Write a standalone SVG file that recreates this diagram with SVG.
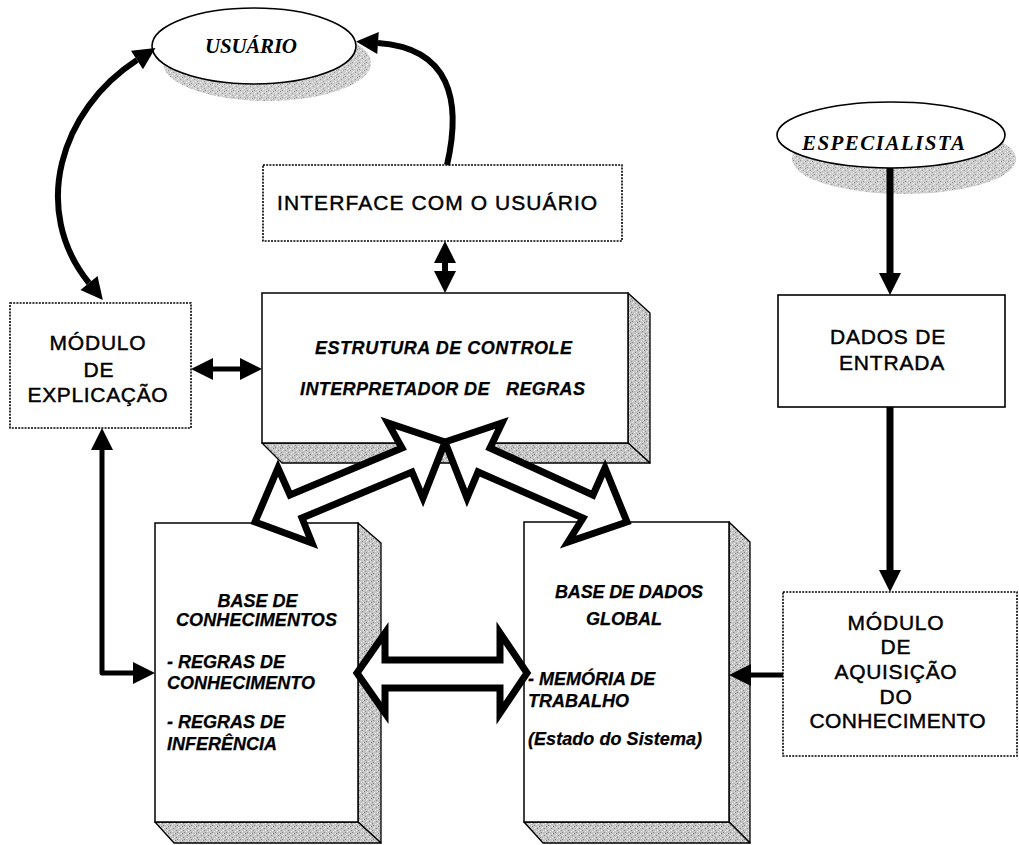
<svg xmlns="http://www.w3.org/2000/svg" width="1019" height="845" viewBox="0 0 1019 845">
  <style>
    .sans { font-family: "Liberation Sans", Arial, sans-serif; fill: #000; }
    .plain { font-size: 21px; letter-spacing: 0.8px; stroke: #000; stroke-width: 0.45; }
    .bi { font-size: 18px; font-weight: bold; font-style: italic; stroke: #000; stroke-width: 0.25; }
    .serif { font-family: "Liberation Serif", "Times New Roman", serif; font-size: 21px; font-weight: bold; font-style: italic; fill: #000; }
    .dotted { fill: #fff; stroke: #000; stroke-width: 1.6; stroke-dasharray: 2 1.2; }
    .solid { fill: #fff; stroke: #000; stroke-width: 1.6; }
    .face { fill: #fff; stroke: #000; stroke-width: 1.5; }
    .bevel { fill: url(#grain); stroke: #000; stroke-width: 1.3; stroke-linejoin: round; }
    .shadow { fill: url(#grain); stroke: none; opacity: 0.85; }
    .oval { fill: #fff; stroke: #000; stroke-width: 1.6; }
    .line { fill: none; stroke: #000; stroke-linejoin: round; }
    .hollow { fill: #fff; stroke: #000; stroke-width: 7; stroke-linejoin: miter; stroke-miterlimit: 10; }
  </style>
  <defs>
    <!-- stippled grey used for the bevel sides and oval shadows -->
    <pattern id="grain" width="7" height="7" patternUnits="userSpaceOnUse">
      <rect width="7" height="7" fill="#c4c4c4"/>
      <rect x="0" y="0" width="1" height="1" fill="#7d7d7d"/>
      <rect x="3" y="1" width="1" height="1" fill="#f2f2f2"/>
      <rect x="5" y="2" width="1" height="1" fill="#888"/>
      <rect x="1" y="4" width="1" height="1" fill="#909090"/>
      <rect x="4" y="5" width="1" height="1" fill="#f0f0f0"/>
      <rect x="2" y="6" width="1" height="1" fill="#858585"/>
      <rect x="6" y="4" width="1" height="1" fill="#fff"/>
      <rect x="2" y="2" width="1" height="1" fill="#e6e6e6"/>
      <rect x="6" y="0" width="1" height="1" fill="#e9e9e9"/>
    </pattern>
    <!-- solid arrowhead; its base sits on the path end -->
    <marker id="ah" markerUnits="userSpaceOnUse" markerWidth="22" markerHeight="22" refX="0" refY="11" orient="auto-start-reverse" overflow="visible">
      <path d="M0,0 L22,11 L0,22 Z" fill="#000"/>
    </marker>
  </defs>

  <rect width="1019" height="845" fill="#fff"/>

  <!-- actors -->
  <g id="usuario">
    <ellipse class="shadow" cx="267" cy="63" rx="104" ry="38"/>
    <ellipse class="oval" cx="254" cy="46" rx="102" ry="38"/>
    <text class="serif" x="251" y="53" text-anchor="middle" textLength="92" lengthAdjust="spacing">USUÁRIO</text>
  </g>

  <g id="especialista">
    <ellipse class="shadow" cx="904" cy="159" rx="112" ry="35"/>
    <ellipse class="oval" cx="891" cy="135" rx="114" ry="33"/>
    <text class="serif" x="883.5" y="150" text-anchor="middle" textLength="163" lengthAdjust="spacing">ESPECIALISTA</text>
  </g>

  <!-- flat boxes -->
  <g id="interface">
    <rect class="dotted" x="263" y="165" width="359" height="76"/>
    <text class="sans plain" x="437.5" y="210" text-anchor="middle" textLength="321" lengthAdjust="spacing">INTERFACE COM O USUÁRIO</text>
  </g>

  <g id="modulo-explicacao">
    <rect class="dotted" x="10" y="303" width="181" height="125"/>
    <text class="sans plain" x="98" y="350" text-anchor="middle">MÓDULO</text>
    <text class="sans plain" x="99" y="377" text-anchor="middle">DE</text>
    <text class="sans plain" x="98" y="402" text-anchor="middle" textLength="141" lengthAdjust="spacing">EXPLICAÇÃO</text>
  </g>

  <g id="dados-entrada">
    <rect class="solid" x="778" y="295" width="227" height="112"/>
    <text class="sans plain" x="888" y="344" text-anchor="middle">DADOS DE</text>
    <text class="sans plain" x="892" y="370" text-anchor="middle">ENTRADA</text>
  </g>

  <g id="modulo-aquisicao">
    <rect class="dotted" x="783" y="592" width="234" height="164"/>
    <text class="sans plain" x="896" y="630" text-anchor="middle">MÓDULO</text>
    <text class="sans plain" x="896" y="654" text-anchor="middle">DE</text>
    <text class="sans plain" x="896" y="679" text-anchor="middle" textLength="123" lengthAdjust="spacing">AQUISIÇÃO</text>
    <text class="sans plain" x="896" y="704" text-anchor="middle">DO</text>
    <text class="sans plain" x="898" y="728" text-anchor="middle" textLength="177" lengthAdjust="spacing">CONHECIMENTO</text>
  </g>

  <!-- bevelled blocks -->
  <g id="estrutura-controle">
    <polygon class="bevel" points="628,293 650,313 650,463 628,443"/>
    <polygon class="bevel" points="262,443 628,443 650,463 282,463"/>
    <rect class="face" x="262" y="293" width="366" height="150"/>
    <text class="sans bi" x="443.5" y="354" text-anchor="middle" textLength="257" lengthAdjust="spacing">ESTRUTURA DE CONTROLE</text>
    <text class="sans bi" x="442.5" y="395" text-anchor="middle" textLength="285" lengthAdjust="spacing" xml:space="preserve">INTERPRETADOR DE   REGRAS</text>
  </g>

  <g id="base-conhecimentos">
    <polygon class="bevel" points="358,523 381,543 381,843 358,822"/>
    <polygon class="bevel" points="155,822 358,822 381,843 174,843"/>
    <rect class="face" x="155" y="523" width="203" height="299"/>
    <text class="sans bi" x="257.5" y="607" text-anchor="middle">BASE DE</text>
    <text class="sans bi" x="256.5" y="626" text-anchor="middle" textLength="161" lengthAdjust="spacing">CONHECIMENTOS</text>
    <text class="sans bi" x="167" y="668">- REGRAS DE</text>
    <text class="sans bi" x="167" y="689" textLength="148" lengthAdjust="spacing">CONHECIMENTO</text>
    <text class="sans bi" x="167" y="728">- REGRAS DE</text>
    <text class="sans bi" x="167" y="750">INFERÊNCIA</text>
  </g>

  <g id="base-dados-global">
    <polygon class="bevel" points="729,522 750,542 750,843 729,822"/>
    <polygon class="bevel" points="524,822 729,822 750,843 543,843"/>
    <rect class="face" x="524" y="522" width="205" height="300"/>
    <text class="sans bi" x="629" y="598" text-anchor="middle" textLength="148" lengthAdjust="spacing">BASE DE DADOS</text>
    <text class="sans bi" x="624" y="625" text-anchor="middle">GLOBAL</text>
    <text class="sans bi" x="528" y="685">- MEMÓRIA DE</text>
    <text class="sans bi" x="528" y="707">TRABALHO</text>
    <text class="sans bi" x="528" y="745" textLength="174" lengthAdjust="spacing">(Estado do Sistema)</text>
  </g>

  <!-- connectors -->
  <g id="connectors">
    <!-- curved links to the user -->
    <path class="line" stroke-width="6" d="M137,60 C60,110 30,210 89,283" marker-start="url(#ah)" marker-end="url(#ah)"/>
    <path class="line" stroke-width="6" d="M447,165 C462,100 450,48 378,43" marker-end="url(#ah)"/>

    <!-- short two-way links -->
    <path class="line" stroke-width="6" d="M445,263 L445,271" marker-start="url(#ah)" marker-end="url(#ah)"/>
    <path class="line" stroke-width="5" d="M213,369 L240,369" marker-start="url(#ah)" marker-end="url(#ah)"/>

    <!-- explanation module to knowledge base -->
    <path class="line" stroke-width="5" d="M102,450 L102,673 L133,673" marker-start="url(#ah)" marker-end="url(#ah)"/>

    <!-- knowledge acquisition chain -->
    <path class="line" stroke-width="7" d="M890,168 L890,273" marker-end="url(#ah)"/>
    <path class="line" stroke-width="7" d="M890,407 L890,570" marker-end="url(#ah)"/>
    <path class="line" stroke-width="5" d="M783,675 L751,675" marker-end="url(#ah)"/>

    <!-- hollow two-way arrows -->
    <polygon class="hollow" points="445,442 388,423 402,448 290,495 278,468 255,522 312,543 302,518 412,472 423,498"/>
    <polygon class="hollow" points="445,442 502,423 490,448 593,495 605,468 627,522 568,542 583,518 478,472 467,498"/>
    <polygon class="hollow" points="357,673 385,633 385,660 500,660 500,633 527,673 500,713 500,688 385,688 385,713"/>
  </g>
</svg>
